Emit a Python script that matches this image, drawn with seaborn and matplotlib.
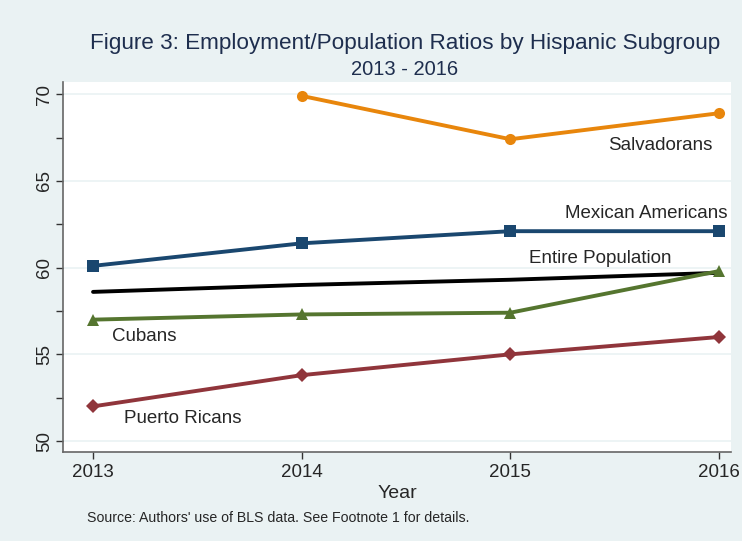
import matplotlib
matplotlib.use("Agg")
import matplotlib.pyplot as plt
import seaborn as sns
import pandas as pd
from matplotlib.ticker import MultipleLocator

# data
years = [2013, 2014, 2015, 2016]
salvadorans = [None, 69.9, 67.4, 68.9]
mexican = [60.1, 61.4, 62.1, 62.1]
entire = [58.6, 59.0, 59.3, 59.7]
cubans = [57.0, 57.3, 57.4, 59.8]
puerto = [52.0, 53.8, 55.0, 56.0]

series = [
    ("Salvadorans", salvadorans, "#E8860C", "o", 8),
    ("Mexican Americans", mexican, "#1A476F", "s", 8),
    ("Entire Population", entire, "black", None, 0),
    ("Cubans", cubans, "#55752F", "^", 8),
    ("Puerto Ricans", puerto, "#90353B", "D", 7),
]

bg = "#EAF2F3"
sns.set_theme(style="white")
plt.rcParams["font.family"] = ["Liberation Sans", "DejaVu Sans"]

fig = plt.figure(figsize=(7.42, 5.41), dpi=100, facecolor=bg)
ax = fig.add_axes([63 / 742, 1 - 452 / 541, (731 - 63) / 742, (452 - 82) / 541])
ax.set_facecolor("white")

for name, vals, col, mk, ms in series:
    df = pd.DataFrame({"year": years, "val": vals}).dropna()
    sns.lineplot(data=df, x="year", y="val", ax=ax, color=col, linewidth=2.8,
                 marker=mk, markersize=ms, markeredgewidth=0, legend=False)

ax.set_xlim(2012.856, 2016.0575)
ax.set_ylim(49.37, 70.7)
ax.set_xticks(years)
ax.set_xticklabels([str(y) for y in years])
ax.yaxis.set_major_locator(MultipleLocator(5))
ax.yaxis.set_minor_locator(MultipleLocator(2.5))
ax.grid(axis="y", which="major", color=bg, linewidth=1.2)
ax.set_axisbelow(True)
for lbl in ax.get_yticklabels():
    lbl.set_rotation(90)
    lbl.set_va("center")
ax.tick_params(axis="both", which="both", direction="out", length=5, width=1,
               color="#333333", labelsize=13.5, bottom=True, left=True)
ax.tick_params(axis="y", which="minor", length=5)
ax.tick_params(axis="y", pad=2)
for s in ["top", "right"]:
    ax.spines[s].set_visible(False)
for s in ["left", "bottom"]:
    ax.spines[s].set_color("#666666")
    ax.spines[s].set_linewidth(1.2)

ax.set_xlabel("Year", fontsize=14, labelpad=3)
ax.set_ylabel("")

# direct labels
ax.text(2015.47, 67.05, "Salvadorans", fontsize=13.5, va="center")
ax.text(2015.26, 63.1, "Mexican Americans", fontsize=13.5, va="center")
ax.text(2015.09, 60.5, "Entire Population", fontsize=13.5, va="center")
ax.text(2013.09, 56.0, "Cubans", fontsize=13.5, va="center")
ax.text(2013.15, 51.3, "Puerto Ricans", fontsize=13.5, va="center")

fig.text(405 / 742, 1 - 43 / 541, "Figure 3: Employment/Population Ratios by Hispanic Subgroup",
         ha="center", va="center", fontsize=16.2, color="#1E2E4E")
fig.text(405 / 742, 1 - 69 / 541, "2013 - 2016", ha="center", va="center",
         fontsize=14.5, color="#1E2E4E")
fig.text(87 / 742, 1 - 518 / 541, "Source: Authors' use of BLS data. See Footnote 1 for details.",
         ha="left", va="center", fontsize=10.2)

fig.savefig("out.png", dpi=100, facecolor=bg)
